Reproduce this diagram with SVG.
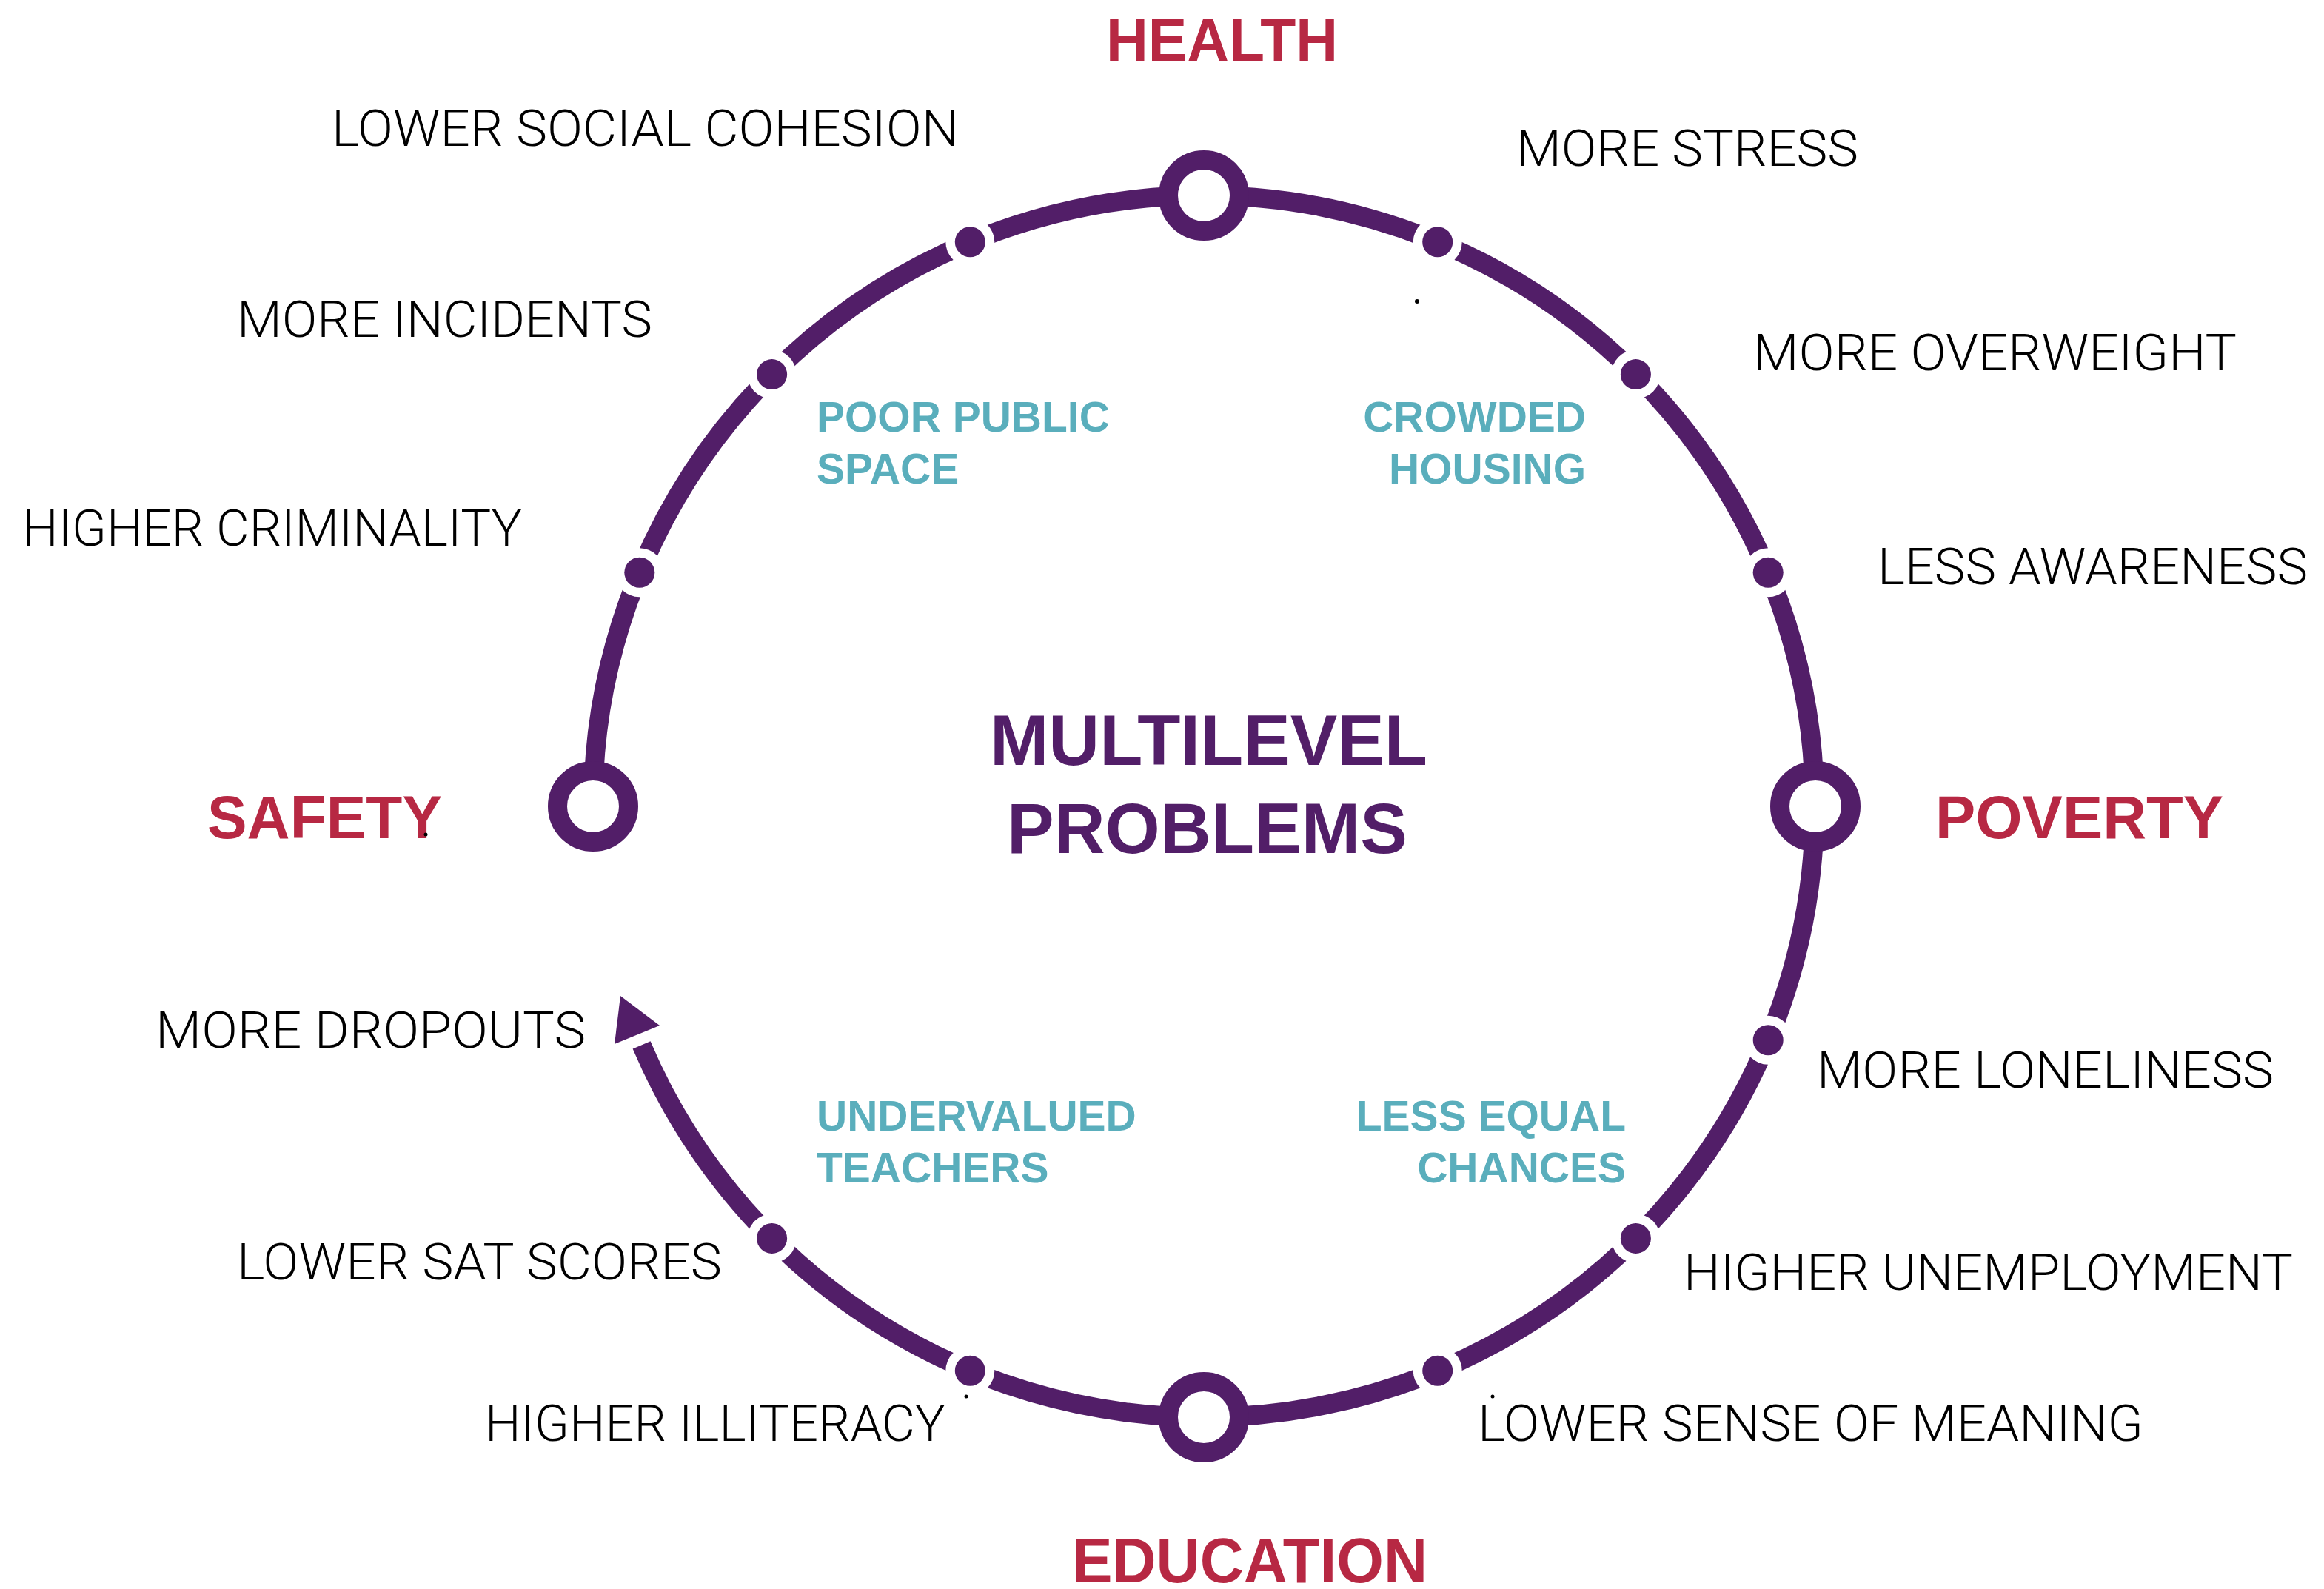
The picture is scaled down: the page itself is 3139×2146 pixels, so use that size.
<svg xmlns="http://www.w3.org/2000/svg" width="3139" height="2146" viewBox="0 0 3139 2146">
<style>
.ring{fill:none;stroke:#521E68;stroke-width:26}
.node{fill:#fff;stroke:#521E68;stroke-width:26}
.halo{fill:#fff}
.dot{fill:#521E68}
.lbl{font-family:Roboto,"Liberation Sans",sans-serif;font-weight:300;font-size:69px;fill:#000}
.red{font-family:"Liberation Sans",Arial,sans-serif;font-weight:bold;font-size:82px;fill:#B72843}
.mid{font-family:"Liberation Sans",Arial,sans-serif;font-weight:bold;font-size:96px;fill:#521E68}
.teal{font-family:"Liberation Sans",Arial,sans-serif;font-weight:bold;font-size:57px;fill:#5AAEBC}
</style>
<rect width="3139" height="2146" fill="#fff"/>
<g id="connectors">
<path class="ring" d="M801 1089 A825 825 0 1 1 2451 1089 A825 825 0 0 1 866.6 1411.3"/>
<polygon class="dot" points="838,1345 891,1385 830,1410"/>
</g>
<g id="dots">
<g id="d1"><circle class="halo" cx="1941.7" cy="326.8" r="33"/><circle class="dot" cx="1941.7" cy="326.8" r="20.5"/></g>
<g id="d2"><circle class="halo" cx="2209.4" cy="505.6" r="33"/><circle class="dot" cx="2209.4" cy="505.6" r="20.5"/></g>
<g id="d3"><circle class="halo" cx="2388.2" cy="773.3" r="33"/><circle class="dot" cx="2388.2" cy="773.3" r="20.5"/></g>
<g id="d4"><circle class="halo" cx="2388.2" cy="1404.7" r="33"/><circle class="dot" cx="2388.2" cy="1404.7" r="20.5"/></g>
<g id="d5"><circle class="halo" cx="2209.4" cy="1672.4" r="33"/><circle class="dot" cx="2209.4" cy="1672.4" r="20.5"/></g>
<g id="d6"><circle class="halo" cx="1941.7" cy="1851.2" r="33"/><circle class="dot" cx="1941.7" cy="1851.2" r="20.5"/></g>
<g id="d7"><circle class="halo" cx="1310.3" cy="1851.2" r="33"/><circle class="dot" cx="1310.3" cy="1851.2" r="20.5"/></g>
<g id="d8"><circle class="halo" cx="1042.6" cy="1672.4" r="33"/><circle class="dot" cx="1042.6" cy="1672.4" r="20.5"/></g>
<g id="d9"><circle class="halo" cx="863.8" cy="773.3" r="33"/><circle class="dot" cx="863.8" cy="773.3" r="20.5"/></g>
<g id="d10"><circle class="halo" cx="1042.6" cy="505.6" r="33"/><circle class="dot" cx="1042.6" cy="505.6" r="20.5"/></g>
<g id="d11"><circle class="halo" cx="1310.3" cy="326.8" r="33"/><circle class="dot" cx="1310.3" cy="326.8" r="20.5"/></g>
</g>
<g id="health"><circle class="node" cx="1626" cy="264" r="48"/><text class="red" x="1494" y="82" textLength="313" lengthAdjust="spacingAndGlyphs">HEALTH</text></g>
<g id="poverty"><circle class="node" cx="2452" cy="1089" r="48"/><text class="red" x="2614" y="1132" textLength="389" lengthAdjust="spacingAndGlyphs">POVERTY</text></g>
<g id="education"><circle class="node" cx="1626" cy="1914" r="48"/><text class="red" x="1448" y="2137" style="font-size:85px" textLength="480" lengthAdjust="spacingAndGlyphs">EDUCATION</text></g>
<g id="safety"><circle class="node" cx="801" cy="1089" r="48"/><text class="red" x="280" y="1132" textLength="317" lengthAdjust="spacingAndGlyphs">SAFETY</text></g>
<g id="center"><text class="mid" x="1337" y="1033" textLength="591" lengthAdjust="spacingAndGlyphs">MULTILEVEL</text><text class="mid" x="1360" y="1152" textLength="541" lengthAdjust="spacingAndGlyphs">PROBLEMS</text></g>
<g id="causes">
<text class="teal" x="1103" y="583">POOR PUBLIC</text><text class="teal" x="1103" y="653">SPACE</text>
<text class="teal" x="2142" y="583" text-anchor="end">CROWDED</text><text class="teal" x="2142" y="653" text-anchor="end">HOUSING</text>
<text class="teal" x="1103" y="1527">UNDERVALUED</text><text class="teal" x="1103" y="1597">TEACHERS</text>
<text class="teal" x="2196" y="1527" text-anchor="end">LESS EQUAL</text><text class="teal" x="2196" y="1597" text-anchor="end">CHANCES</text>
</g>
<g id="effects">
<text class="lbl" x="448" y="197" textLength="847" lengthAdjust="spacingAndGlyphs">LOWER SOCIAL COHESION</text>
<text class="lbl" x="2048" y="224" textLength="462" lengthAdjust="spacingAndGlyphs">MORE STRESS</text>
<text class="lbl" x="320" y="455" textLength="561" lengthAdjust="spacingAndGlyphs">MORE INCIDENTS</text>
<text class="lbl" x="2368" y="500" textLength="653" lengthAdjust="spacingAndGlyphs">MORE OVERWEIGHT</text>
<text class="lbl" x="30" y="737" textLength="675" lengthAdjust="spacingAndGlyphs">HIGHER CRIMINALITY</text>
<text class="lbl" x="2536" y="789" textLength="581" lengthAdjust="spacingAndGlyphs">LESS AWARENESS</text>
<text class="lbl" x="210" y="1415" textLength="581" lengthAdjust="spacingAndGlyphs">MORE DROPOUTS</text>
<text class="lbl" x="2454" y="1469" textLength="617" lengthAdjust="spacingAndGlyphs">MORE LONELINESS</text>
<text class="lbl" x="320" y="1728" textLength="655" lengthAdjust="spacingAndGlyphs">LOWER SAT SCORES</text>
<text class="lbl" x="2274" y="1742" textLength="823" lengthAdjust="spacingAndGlyphs">HIGHER UNEMPLOYMENT</text>
<text class="lbl" x="655" y="1946" textLength="622" lengthAdjust="spacingAndGlyphs">HIGHER ILLITERACY</text>
<text class="lbl" x="1996" y="1946" textLength="899" lengthAdjust="spacingAndGlyphs">LOWER SENSE OF MEANING</text>
</g>
<g id="specks" fill="#000">
<circle cx="1914" cy="407" r="3"/>
<circle cx="575" cy="1127" r="2.5"/>
<circle cx="2016" cy="1886" r="2.5"/>
<circle cx="1305" cy="1886" r="2.5"/>
</g>
</svg>
